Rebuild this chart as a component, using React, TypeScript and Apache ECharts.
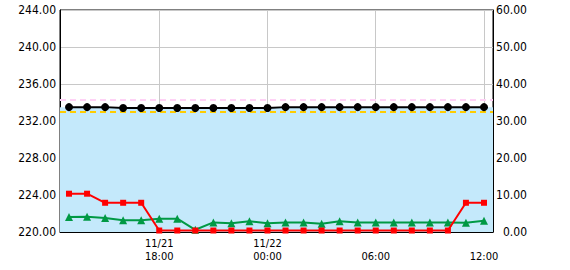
import React, { useEffect, useRef } from "react";
import * as echarts from "echarts";

const times = [
  "11/21 13:00", "11/21 14:00", "11/21 15:00", "11/21 16:00", "11/21 17:00", "11/21 18:00",
  "11/21 19:00", "11/21 20:00", "11/21 21:00", "11/21 22:00", "11/21 23:00", "11/22 00:00",
  "11/22 01:00", "11/22 02:00", "11/22 03:00", "11/22 04:00", "11/22 05:00", "11/22 06:00",
  "11/22 07:00", "11/22 08:00", "11/22 09:00", "11/22 10:00", "11/22 11:00", "11/22 12:00",
];

const blackValues = [
  233.5, 233.5, 233.5, 233.4, 233.4, 233.4, 233.4, 233.4, 233.4, 233.4, 233.4, 233.4,
  233.5, 233.5, 233.5, 233.5, 233.5, 233.5, 233.5, 233.5, 233.5, 233.5, 233.5, 233.5,
];

const redValues = [
  10.35, 10.35, 7.9, 7.9, 7.9, 0.4, 0.4, 0.4, 0.4, 0.4, 0.4, 0.4,
  0.4, 0.4, 0.4, 0.4, 0.4, 0.4, 0.4, 0.4, 0.4, 0.4, 7.9, 7.9,
];

const greenValues = [
  4.05, 4.1, 3.8, 3.2, 3.2, 3.6, 3.6, 0.6, 2.6, 2.35, 2.9, 2.35,
  2.6, 2.6, 2.2, 2.9, 2.6, 2.6, 2.6, 2.6, 2.6, 2.6, 2.5, 3.05,
];

const bandRange = [220, 233.5];
const yellowLine = 233.0;
const pinkLine = 234.35;

const leftAxis = { min: 220, max: 244, interval: 4 };
const rightAxis = { min: 0, max: 60, interval: 10 };

const FONT = "'DejaVu Sans Condensed', 'DejaVu Sans Mono', sans-serif";

export default function App() {
  const ref = useRef<HTMLDivElement>(null);

  useEffect(() => {
    document.body.style.margin = "0";
    if (!ref.current) return;
    const chart = echarts.init(ref.current, null, { renderer: "svg" });
    const labelStyle = { color: "#000", fontFamily: FONT, fontSize: 12 };
    chart.setOption({
      animation: false,
      backgroundColor: "#fff",
      grid: {
        left: 60,
        right: 77,
        top: 10,
        bottom: 38,
        show: true,
        borderColor: "#000",
        borderWidth: 1,
        backgroundColor: "transparent",
      },
      xAxis: {
        type: "category",
        data: times,
        boundaryGap: true,
        axisLine: { show: true, lineStyle: { color: "#000", width: 1 } },
        axisTick: { show: false, alignWithLabel: true },
        axisLabel: {
          color: "#000",
          fontFamily: FONT,
          fontSize: 11,
          lineHeight: 13,
          interval: (idx: number) => idx % 6 === 5,
          margin: 5,
          formatter: (v: string) => {
            const [d, t] = v.split(" ");
            return t === "18:00" || t === "00:00" ? d + "\n" + t : "\n" + t;
          },
        },
        splitLine: {
          show: true,
          alignWithLabel: true,
          interval: (idx: number) => idx % 6 === 5,
          lineStyle: { color: "#c8c8c8", width: 1 },
        },
      },
      yAxis: [
        {
          type: "value",
          ...leftAxis,
          axisLine: { show: true, lineStyle: { color: "#000" } },
          axisTick: { show: false },
          axisLabel: {
            ...labelStyle,
            margin: 4,
            formatter: (v: number) => v.toFixed(2),
          },
          splitLine: { show: true, lineStyle: { color: "#c8c8c8", width: 1 } },
        },
        {
          type: "value",
          ...rightAxis,
          position: "right",
          axisLine: { show: true, lineStyle: { color: "#000" } },
          axisTick: { show: false },
          axisLabel: {
            ...labelStyle,
            margin: 34,
            align: "right",
            formatter: (v: number) => v.toFixed(2),
          },
          splitLine: { show: false },
        },
      ],
      series: [
        {
          name: "band",
          type: "line",
          yAxisIndex: 0,
          data: [],
          z: -1,
          silent: true,
          markArea: {
            silent: true,
            itemStyle: { color: "#c4e9fb" },
            data: [[{ yAxis: bandRange[0] }, { yAxis: bandRange[1] }]],
          },
        },
        {
          name: "limits",
          type: "line",
          yAxisIndex: 0,
          data: [],
          z: 1,
          markLine: {
            silent: true,
            symbol: "none",
            label: { show: false },
            data: [
              { yAxis: pinkLine, lineStyle: { color: "#ffd2f6", type: [6, 4], width: 2 } },
              { yAxis: yellowLine, lineStyle: { color: "#ffcc00", type: [6, 4], width: 2 } },
            ],
          },
        },
        {
          name: "green",
          type: "line",
          yAxisIndex: 1,
          data: greenValues,
          symbol: "triangle",
          symbolSize: 8,
          lineStyle: { color: "#009944", width: 2 },
          itemStyle: { color: "#009944" },
          z: 3,
        },
        {
          name: "red",
          type: "line",
          yAxisIndex: 1,
          data: redValues,
          symbol: "rect",
          symbolSize: 6,
          lineStyle: { color: "#ff0000", width: 2 },
          itemStyle: { color: "#ff0000" },
          z: 4,
        },
        {
          name: "black",
          type: "line",
          yAxisIndex: 0,
          data: blackValues,
          symbol: "circle",
          symbolSize: 8,
          lineStyle: { color: "#000", width: 2 },
          itemStyle: { color: "#000" },
          z: 5,
        },
      ],
    });
    return () => chart.dispose();
  }, []);

  return <div ref={ref} style={{ width: 570, height: 270 }} />;
}
